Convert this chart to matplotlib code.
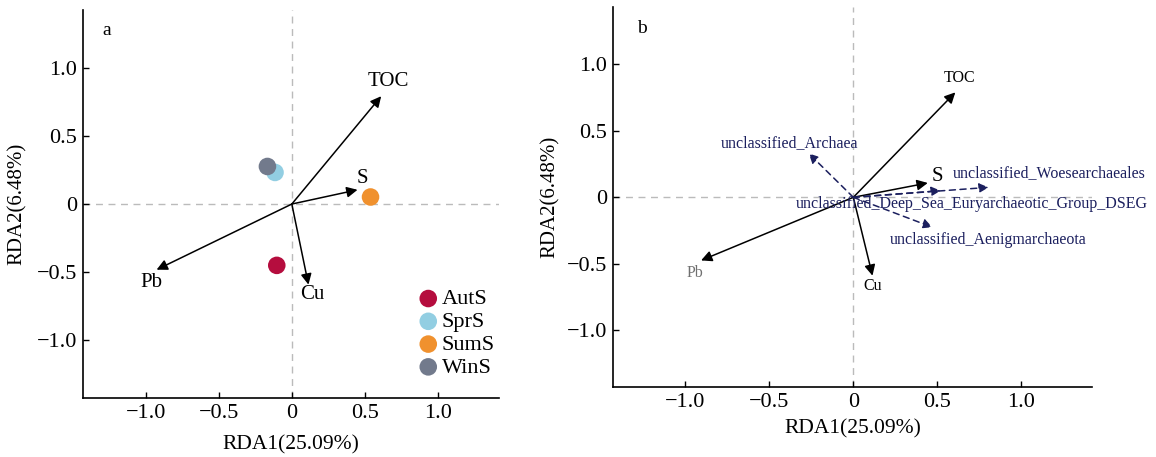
#!/usr/bin/env python3
"""RDA biplots: sample seasons (a) and archaeal taxa (b) against environmental factors."""

import matplotlib

matplotlib.use("Agg")
import matplotlib.pyplot as plt

plt.rcParams["font.family"] = ["Liberation Serif", "DejaVu Serif"]

# environmental factor arrows (shared by both panels)
env_names = ["TOC", "S", "Pb", "Cu"]
env_x = [0.612, 0.45, -0.926, 0.114]
env_y = [0.795, 0.105, -0.484, -0.594]
env_lab_x = [0.66, 0.48, -0.96, 0.14]
env_lab_y = [0.90, 0.19, -0.58, -0.67]

env_x_b = [0.607, 0.443, -0.906, 0.114]
env_y_b = [0.79, 0.108, -0.475, -0.59]
env_lab_x_b = [0.634, 0.50, -0.943, 0.114]
env_lab_y_b = [0.895, 0.16, -0.57, -0.67]

# sample sites (panel a)
seasons = ["AutS", "SprS", "SumS", "WinS"]
season_x = [-0.103, -0.115, 0.539, -0.167]
season_y = [-0.452, 0.233, 0.052, 0.277]
season_colors = ["#B50D3E", "#92CEE2", "#F0912E", "#727A8C"]

# taxa arrows (panel b)
taxa = [
    "unclassified_Archaea",
    "unclassified_Woesearchaeales",
    "unclassified_Deep_Sea_Euryarchaeotic_Group_DSEG",
    "unclassified_Aenigmarchaeota",
]
taxa_x = [-0.265, 0.805, 0.52, 0.47]
taxa_y = [0.33, 0.075, 0.05, -0.225]
taxa_lab_x = [-0.38, 0.59, -0.34, 0.22]
taxa_lab_y = [0.41, 0.18, -0.05, -0.32]
taxa_lab_ha = ["center", "left", "left", "left"]

ticks = [-1.0, -0.5, 0, 0.5, 1.0]
tick_labels = ["\u22121.0", "\u22120.5", "0", "0.5", "1.0"]

NAVY = "#1B1F5E"


def style_axes(ax, xpad):
    ax.set_xlim(-1.43, 1.42)
    ax.set_ylim(-1.43, 1.43)
    ax.spines["top"].set_visible(False)
    ax.spines["right"].set_visible(False)
    for s in ("left", "bottom"):
        ax.spines[s].set_linewidth(1.2)
    ax.set_xticks(ticks)
    ax.set_xticklabels(tick_labels)
    ax.set_yticks(ticks)
    ax.set_yticklabels(tick_labels)
    ax.tick_params(direction="in", length=4, width=1.0, labelsize=16, pad=4)
    ax.axhline(0, color="#BBBBBB", lw=1.0, ls=(0, (5, 4)), zorder=0)
    ax.axvline(0, color="#BBBBBB", lw=1.0, ls=(0, (5, 4)), zorder=0)
    ax.set_xlabel("RDA1(25.09%)", fontsize=15.5, labelpad=xpad)
    ax.set_ylabel("RDA2(6.48%)", fontsize=15)


def arrow(ax, x, y, color="black", ls="-", scale=16):
    ax.annotate(
        "", xy=(x, y), xytext=(0, 0),
        arrowprops=dict(arrowstyle="-|>", color=color, lw=1.1, ls=ls,
                        mutation_scale=scale, shrinkA=0, shrinkB=0),
    )


def main() -> None:
    fig = plt.figure(figsize=(11.56, 4.57), dpi=100)
    ax_a = fig.add_axes([0.0718, 0.129, 0.360, 0.849])
    ax_b = fig.add_axes([0.5303, 0.1525, 0.4143, 0.8315])

    # panel a
    style_axes(ax_a, xpad=9)
    for name, x, y, lx, ly in zip(env_names, env_x, env_y, env_lab_x, env_lab_y):
        arrow(ax_a, x, y)
        ax_a.text(lx, ly, name, fontsize=15, ha="center", va="center")
    for i in range(len(seasons)):
        ax_a.scatter(season_x[i], season_y[i], s=160, color=season_colors[i],
                     edgecolors="none", label=seasons[i], zorder=3)
    ax_a.legend(loc="lower right", bbox_to_anchor=(1.0, 0.041), frameon=False,
                fontsize=16, handlelength=1.0, handletextpad=0.1,
                labelspacing=0.1, borderpad=0.2, borderaxespad=0.0,
                scatterpoints=1)
    ax_a.yaxis.set_label_coords(-0.135, 0.5)
    ax_a.text(0.058, 0.948, "a", transform=ax_a.transAxes, fontsize=14,
              ha="center", va="center")

    # panel b
    style_axes(ax_b, xpad=5)
    for name, x, y, lx, ly in zip(env_names, env_x_b, env_y_b, env_lab_x_b, env_lab_y_b):
        arrow(ax_b, x, y)
        size = 15 if name == "S" else 11.5
        color = "#707070" if name == "Pb" else "black"
        ax_b.text(lx, ly, name, fontsize=size, ha="center", va="center", color=color)
    for name, x, y, lx, ly, ha in zip(taxa, taxa_x, taxa_y, taxa_lab_x, taxa_lab_y, taxa_lab_ha):
        arrow(ax_b, x, y, color=NAVY, ls=(0, (4, 3)), scale=14)
        ax_b.text(lx, ly, name, fontsize=11.5, ha=ha, va="center", color=NAVY)
    ax_b.yaxis.set_label_coords(-0.111, 0.5)
    ax_b.text(0.06, 0.943, "b", transform=ax_b.transAxes, fontsize=14,
              ha="center", va="center")

    fig.savefig("out.png", dpi=100)
    plt.close(fig)


if __name__ == "__main__":
    main()
